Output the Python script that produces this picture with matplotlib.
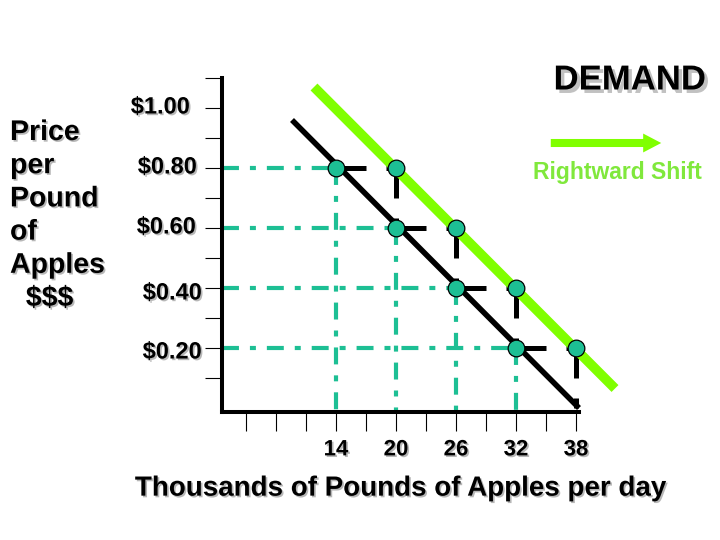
import matplotlib
matplotlib.use("Agg")
import matplotlib.pyplot as plt
import matplotlib.patheffects as pe
import matplotlib.transforms as mtransforms
from matplotlib.patches import FancyArrowPatch

plt.rcParams['font.family'] = ['Liberation Sans', 'DejaVu Sans']
plt.rcParams['font.weight'] = 'bold'
plt.rcParams['axes.labelweight'] = 'bold'
plt.rcParams['lines.scale_dashes'] = False

# data: demand before / after the shift
prices = [0.80, 0.60, 0.40, 0.20]
qty_old = [14, 20, 26, 32]
qty_new = [20, 26, 32, 38]

# the two demand curves (end points)
old_curve_q = [9.6, 38.3]
old_curve_p = [0.96, 0.0]
new_curve_q = [11.8, 41.9]
new_curve_p = [1.07, 0.065]

x_ticks = [5, 8, 11, 14, 17, 20, 23, 26, 29, 32, 35, 38]
x_tick_labels = ['14', '20', '26', '32', '38']
y_ticks = [0.1, 0.2, 0.3, 0.4, 0.5, 0.6, 0.7, 0.8, 0.9, 1.0, 1.1]
y_tick_values = [1.0, 0.8, 0.6, 0.4, 0.2]
y_tick_labels = ['$1.00', '$0.80', '$0.60', '$0.40', '$0.20']

teal = '#1DBF94'
green = '#80FF00'
shadow = [pe.withSimplePatchShadow(offset=(1.2, -1.2), shadow_rgbFace='#888888', alpha=0.6)]
big_shadow = [pe.withSimplePatchShadow(offset=(2.5, -2.5), shadow_rgbFace='#999999', alpha=0.6)]

W, H = 720, 540
fig = plt.figure(figsize=(7.2, 5.4), dpi=100)
ax = fig.add_axes([222 / W, 1 - 412 / H, (579 - 222) / W, (412 - 78) / H])
ax.set_xlim(2.6, 38.3)
ax.set_ylim(-0.0133, 1.1)

for s in ['top', 'right']:
    ax.spines[s].set_visible(False)
for s in ['left', 'bottom']:
    ax.spines[s].set_linewidth(2.9)

ax.set_xticks([t for t in x_ticks if str(t) in x_tick_labels], x_tick_labels)
ax.set_xticks([t for t in x_ticks if str(t) not in x_tick_labels], minor=True)
ax.tick_params(axis='x', which='both', direction='out', length=13.7, width=0.8,
               pad=6, labelsize=16)
ax.set_yticks(y_ticks)
ax.tick_params(axis='y', which='both', direction='out', length=12.2, width=0.8,
               labelleft=False)
for lbl in ax.get_xticklabels():
    lbl.set_path_effects(shadow)

# y tick labels as text, slightly uneven like the slide
nudges = [(-32, 1), (-25, 1), (-26, 1), (-20, -5), (-20, -4)]
for val, txt, (dx, dy) in zip(y_tick_values, y_tick_labels, nudges):
    tr = ax.get_yaxis_transform() + mtransforms.ScaledTranslation(dx / 100, dy / 100, fig.dpi_scale_trans)
    ax.text(0, val, txt, transform=tr, ha='right', va='center', fontsize=17,
            path_effects=shadow)

# teal guide lines
dashdot = (0, (12.2, 7.9, 4.3, 7.9))
for q, p in zip(qty_old, prices):
    ax.plot([2.6, q], [p, p], color=teal, lw=3, ls=dashdot, zorder=2)
    ax.plot([q, q], [p, -0.0133], color=teal, lw=3, ls=dashdot, zorder=2)

# black step path between old and new points
step_q, step_p = [], []
for qo, qn, p in zip(qty_old, qty_new, prices):
    step_q += [qo, qn]
    step_p += [p, p]
step_q.append(qty_new[-1])
step_p.append(0.0)
ax.plot(step_q, step_p, color='black', lw=3.6, ls=(7.2, (28.8, 14.4)),
        zorder=3, clip_on=False)

ax.plot(old_curve_q, old_curve_p, color='black', lw=4, zorder=4,
        solid_capstyle='butt', clip_on=False)
ax.plot(new_curve_q, new_curve_p, color=green, lw=7, zorder=4,
        solid_capstyle='butt', clip_on=False)

ax.plot(qty_old, prices, 'o', ms=12, mfc=teal, mec='black', mew=0.9, zorder=6, clip_on=False)
ax.plot(qty_new, prices, 'o', ms=12, mfc=teal, mec='black', mew=0.9, zorder=6, clip_on=False)

ax.set_xlabel('Thousands of Pounds of Apples per day', fontsize=20, labelpad=11,
              fontweight='bold', path_effects=shadow)

fig.text(10 / W, 1 - 216 / H, 'Price\nper\nPound\nof\nApples\n  $$$', fontsize=20.5,
         ha='left', va='center', linespacing=1.36, path_effects=shadow)
fig.text(630 / W, 1 - 80 / H, 'DEMAND', fontsize=25, ha='center', va='center',
         path_effects=big_shadow)

arrow = FancyArrowPatch((548 / W, 1 - 143 / H), (664 / W, 1 - 143 / H),
                        transform=fig.transFigure,
                        arrowstyle='simple,tail_width=0.29,head_width=0.68,head_length=0.65',
                        mutation_scale=20, color=green, lw=0)
fig.patches.append(arrow)
fig.text(617 / W, 1 - 173 / H, 'Rightward Shift', fontsize=16.5, color='#80E83C',
         ha='center', va='center')

fig.savefig('out.png', dpi=100)
